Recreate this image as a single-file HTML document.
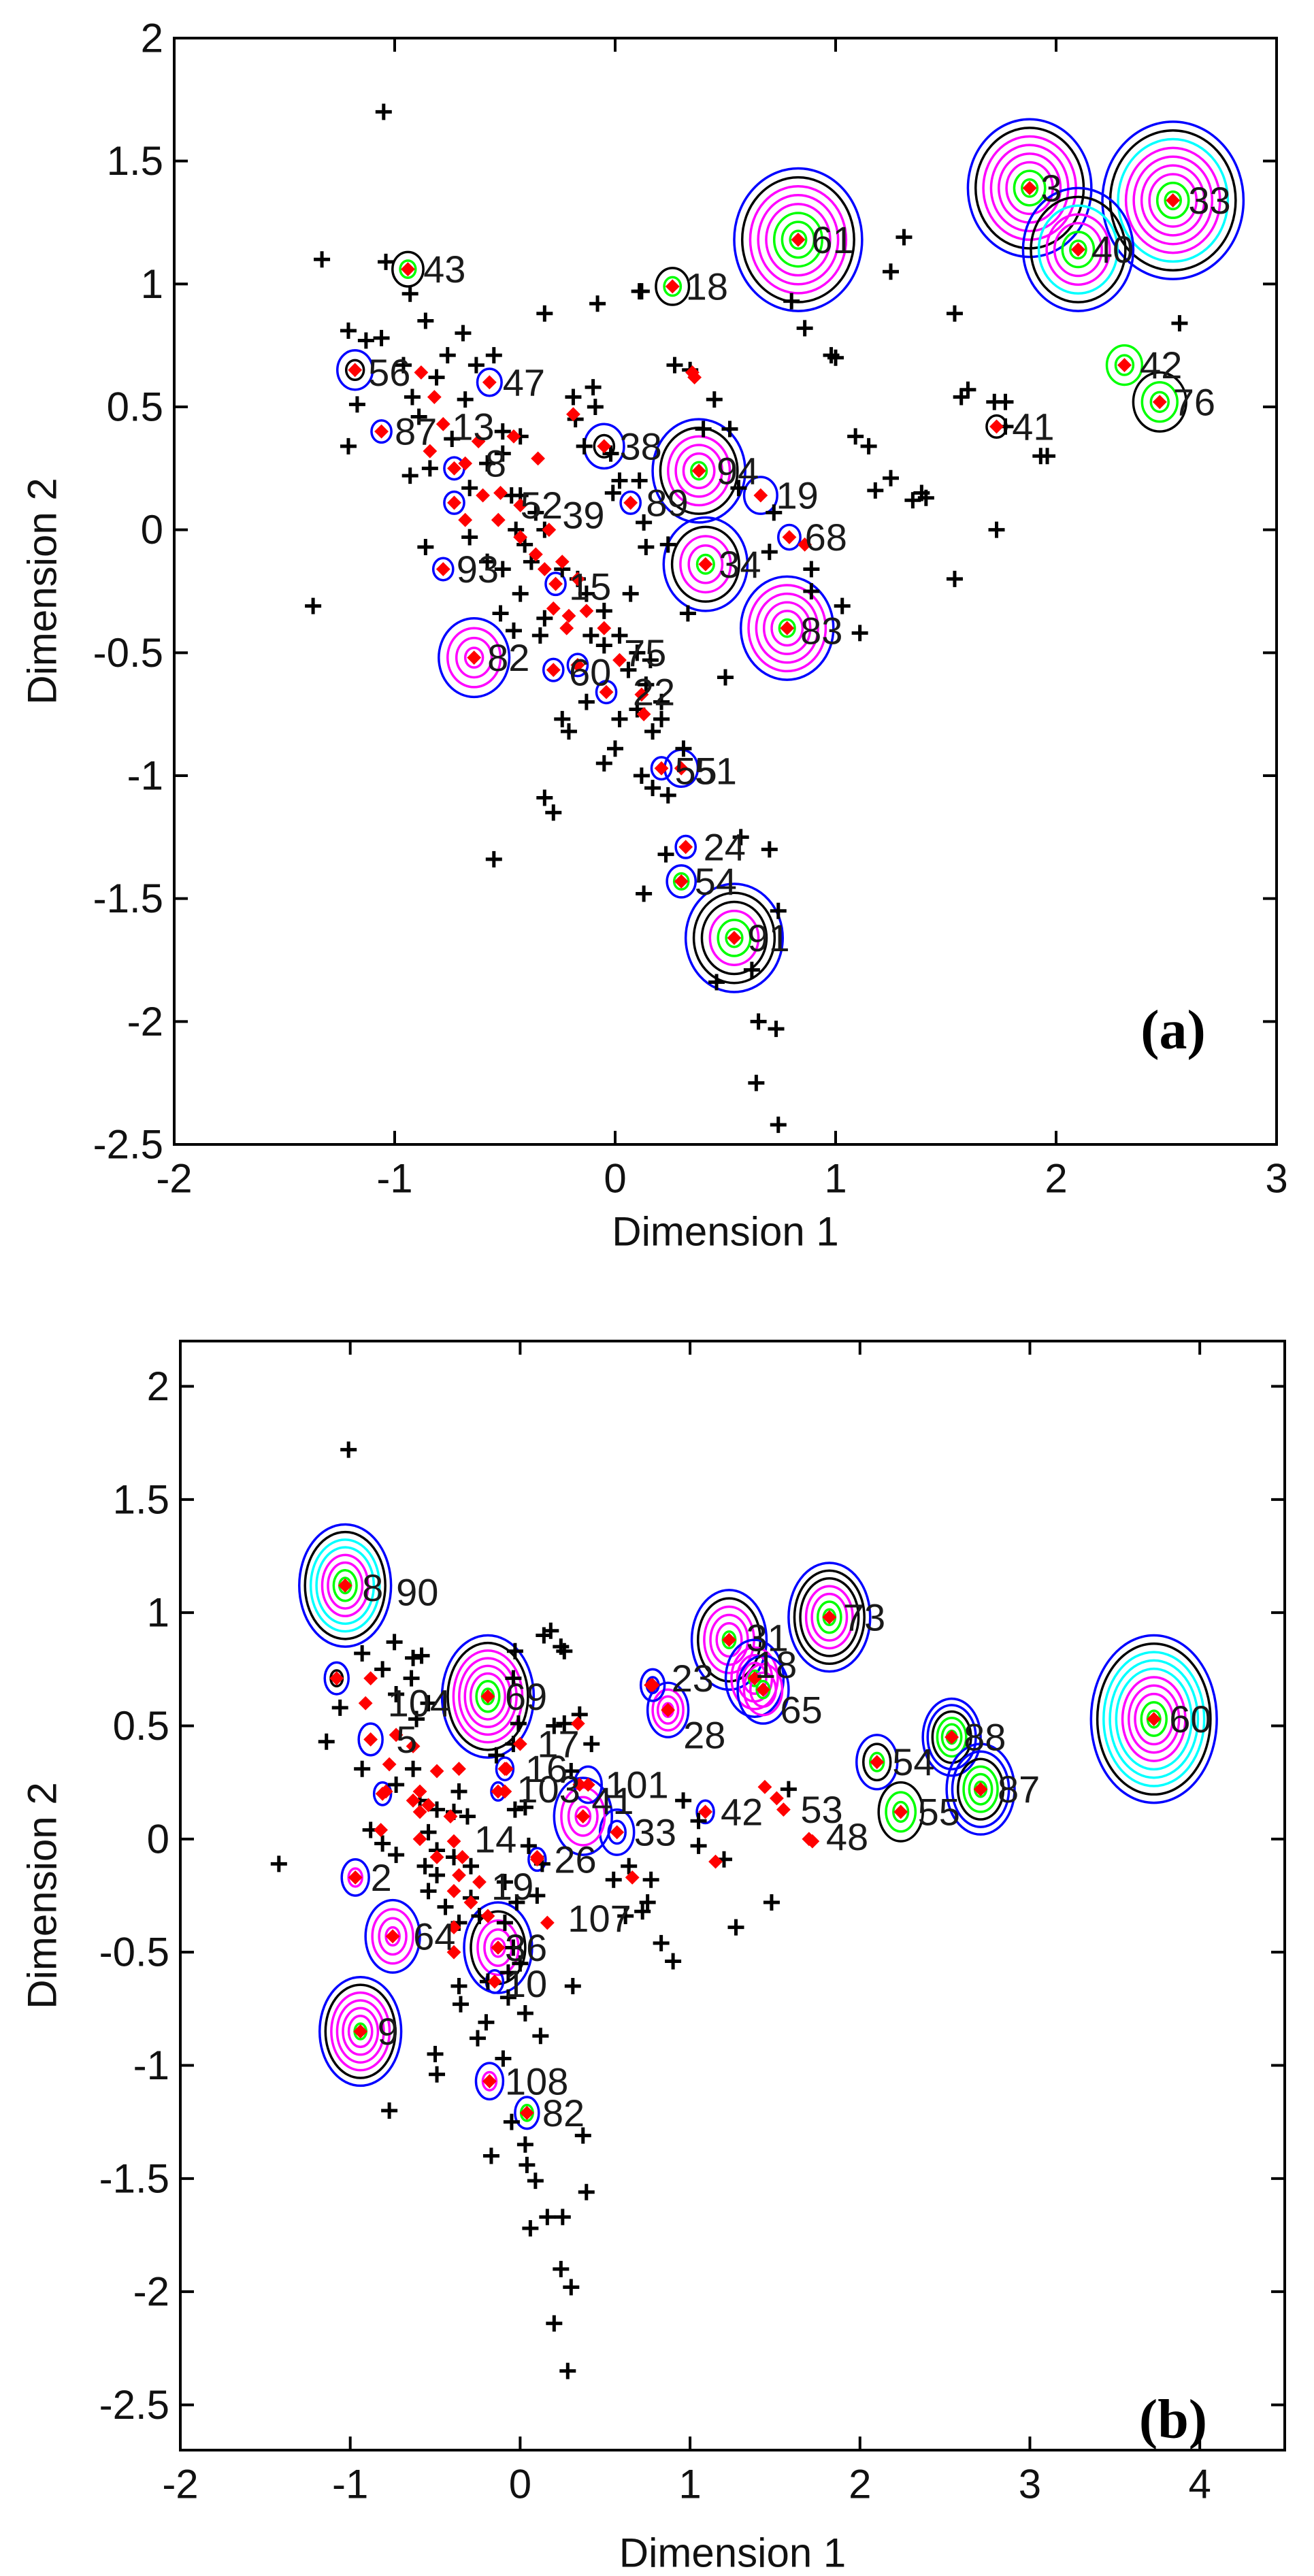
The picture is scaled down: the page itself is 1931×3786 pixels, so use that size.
<!DOCTYPE html>
<html><head><meta charset="utf-8"><style>
html,body{margin:0;padding:0;background:#fff;}
svg{display:block;}
text{font-family:"Liberation Sans",sans-serif;}
</style></head><body>
<svg id="fig" width="1931" height="3786" viewBox="0 0 1931 3786" xmlns="http://www.w3.org/2000/svg">
<rect x="0" y="0" width="1931" height="3786" fill="#fff"/>
<g id="panelA"></g>
<g id="panelB"></g>
</svg>
<script>
// ---------- Panel (a) data ----------
const aXTicks=[-2,-1,0,1,2,3];
const aXTickLabels=["-2","-1","0","1","2","3"];
const aYTicks=[2,1.5,1,0.5,0,-0.5,-1,-1.5,-2,-2.5];
const aYTickLabels=["2","1.5","1","0.5","0","-0.5","-1","-1.5","-2","-2.5"];
const aBlackX=[-1.05,-1.33,-1.04,-0.93,-0.86,-0.69,-1.21,-1.13,-1.06,-0.76,-0.63,-0.55,-1.17,-1.21,-0.93,-0.84,-0.81,-0.92,-0.89,-0.96,-0.68,-0.51,-0.43,-0.51,-0.32,-0.08,0.11,0.12,-0.19,-0.10,-0.09,-0.18,-0.14,0.02,-0.01,-0.02,0.11,0.13,0.14,0.24,0.27,0.34,0.45,0.40,0.52,0.56,0.80,0.86,0.98,1.00,0.72,0.70,0.89,0.89,1.03,1.11,0.50,0.33,0.07,1.25,1.31,1.54,1.60,1.57,1.72,1.77,1.77,1.93,1.96,1.09,1.15,1.25,1.18,1.35,1.39,1.41,1.73,1.54,2.56,-1.37,-0.86,-0.52,-0.43,-0.46,-0.34,-0.32,-0.47,-0.36,-0.45,-0.41,-0.58,-0.51,-0.38,-0.24,-0.17,-0.13,-0.05,-0.11,-0.05,0.02,0.10,0.16,0.06,0.14,0.21,0.21,0.17,0.02,0.10,-0.13,-0.24,-0.21,0.00,-0.05,0.12,0.17,0.24,0.31,-0.32,-0.28,-0.55,0.23,0.57,0.70,0.13,0.74,0.46,0.62,0.65,0.73,0.64,0.74,-0.74,-0.58,-0.66,-0.43,-0.32,-0.66];
const aBlackY=[1.70,1.10,1.09,0.96,0.85,0.80,0.81,0.77,0.78,0.71,0.67,0.71,0.51,0.34,0.22,0.25,0.62,0.54,0.46,0.67,0.53,0.40,0.38,0.31,0.88,0.92,0.97,0.97,0.54,0.58,0.50,0.45,0.34,0.20,0.15,0.31,0.20,0.03,-0.07,-0.06,0.67,0.65,0.53,0.41,0.41,0.17,0.93,0.82,0.71,0.70,0.07,-0.09,-0.16,-0.25,-0.31,-0.42,-0.60,-0.34,-0.26,1.05,1.19,0.88,0.57,0.54,0.52,0.52,0.42,0.30,0.30,0.38,0.34,0.21,0.16,0.12,0.15,0.13,0.00,-0.20,0.84,-0.31,-0.07,-0.34,-0.26,-0.41,-0.43,-0.36,0.14,0.07,0.00,-0.06,-0.13,-0.16,-0.13,-0.16,-0.20,-0.26,-0.33,-0.43,-0.47,-0.43,-0.50,-0.53,-0.57,-0.63,-0.70,-0.77,-0.82,-0.77,-0.73,-0.70,-0.77,-0.82,-0.89,-0.95,-1.00,-1.05,-1.08,-0.89,-1.09,-1.15,-1.34,-1.32,-1.25,-1.30,-1.48,-1.55,-1.84,-1.79,-2.00,-2.03,-2.25,-2.42,0.37,0.27,0.17,0.14,0.00,-0.03];
const aRedX=[-0.82,-0.88,-0.78,-0.84,-0.68,-0.62,-0.46,-0.35,-0.19,0.35,0.36,-0.60,-0.53,-0.43,-0.36,-0.30,-0.32,-0.24,-0.17,-0.28,-0.21,-0.13,-0.05,-0.22,0.02,0.12,0.13,-0.68,-0.52,0.86,-0.43];
const aRedY=[0.54,0.64,0.43,0.32,0.27,0.36,0.38,0.29,0.47,0.64,0.62,0.14,0.04,-0.03,-0.10,0.00,-0.16,-0.13,-0.20,-0.32,-0.35,-0.33,-0.40,-0.40,-0.53,-0.67,-0.75,0.04,0.15,-0.06,0.10];
const aClusterX=[1.88,2.53,2.10,0.83,-0.94,0.26,2.31,2.47,1.73,-1.18,-0.57,-1.06,-0.05,0.38,0.66,0.07,0.79,0.41,0.78,-0.64,-0.78,-0.28,-0.17,-0.04,-0.27,-0.73,-0.73,0.30,0.21,0.32,0.30,0.54];
const aClusterY=[1.39,1.34,1.14,1.18,1.06,0.99,0.67,0.52,0.42,0.65,0.60,0.40,0.34,0.24,0.14,0.11,-0.03,-0.14,-0.40,-0.52,-0.16,-0.57,-0.55,-0.66,-0.22,0.11,0.25,-0.97,-0.97,-1.29,-1.43,-1.66];
const aClusterR=[0.28,0.32,0.25,0.29,0.07,0.075,0.08,0.12,0.045,0.08,0.055,0.045,0.09,0.21,0.075,0.045,0.05,0.19,0.21,0.16,0.045,0.045,0.045,0.045,0.045,0.045,0.045,0.075,0.045,0.045,0.065,0.22];
const aClusterRings=["bkmmmmgg","bkcmmmmgg","bkcmmgg","bkmmmggg","kg","kg","gg","kgg","k","bk","b","b","bk","bkmmmg","b","b","b","bkmmg","bmmmmg","bmmm","b","b","b","b","b","b","b","b","b","b","bg","bkkmgg"];
const aLabelText=["3","33","40","61","43","18","42","76","41","56","47","87","13","38","94","19","89","68","34","83","82","93","39","51","55","24","54","91","75","22","60","15","8","52"];
const aLabelX=[1.93,2.60,2.16,0.89,-0.87,0.32,2.38,2.53,1.80,-1.12,-0.51,-1.00,-0.74,0.02,0.46,0.73,0.14,0.86,0.47,0.84,-0.58,-0.72,-0.24,0.36,0.27,0.40,0.36,0.60,0.04,0.08,-0.21,-0.21,-0.59,-0.43];
const aLabelY=[1.39,1.34,1.14,1.18,1.06,0.99,0.67,0.52,0.42,0.64,0.60,0.40,0.42,0.34,0.24,0.14,0.11,-0.03,-0.14,-0.41,-0.52,-0.16,0.06,-0.98,-0.98,-1.29,-1.43,-1.66,-0.50,-0.66,-0.58,-0.23,0.27,0.10];

// ---------- Panel (b) data ----------
const bXTicks=[-2,-1,0,1,2,3,4];
const bXTickLabels=["-2","-1","0","1","2","3","4"];
const bYTicks=[2,1.5,1,0.5,0,-0.5,-1,-1.5,-2,-2.5];
const bYTickLabels=["2","1.5","1","0.5","0","-0.5","-1","-1.5","-2","-2.5"];
const bBlackX=[-1.01,-1.14,-1.06,-0.74,-0.93,-0.63,-0.58,-0.81,-0.64,-0.73,-0.54,-0.61,-0.93,-0.88,-0.81,-0.73,-1.42,-0.77,-0.50,-0.49,-0.36,-0.35,-0.25,-0.20,-0.10,-0.05,-0.17,0.03,0.04,0.09,0.06,0.16,0.25,0.24,0.30,0.20,0.28,0.37,0.39,0.12,0.03,-0.07,0.31,0.72,0.75,0.83,0.90,1.27,1.48,1.05,1.20,0.96,1.05,1.58,0.20,0.26,0.35,0.42,0.14,0.18,0.24,0.26,-0.03,-0.04,-0.01,-0.04,-0.14,-0.03,0.03,0.05,0.13,0.30,0.64,0.77,0.55,0.62,-0.49,-0.39,-0.31,-0.59,-0.54,-0.56,-0.49,-0.54,-0.44,-0.36,-0.29,-0.24,-0.09,-0.02,0.10,-0.49,-0.39,-0.29,-0.63,-0.73,-0.36,-0.09,-0.04,0.00,-0.07,-0.19];
const bBlackY=[1.72,0.43,0.58,0.87,0.82,0.80,0.81,0.75,0.71,0.64,0.60,0.53,0.31,0.04,-0.02,-0.07,-0.11,-1.20,-0.95,-1.04,-0.65,-0.73,-0.88,-0.81,-0.97,-1.25,-1.40,-1.35,-1.44,-1.51,-1.72,-1.67,-1.67,-1.90,-1.98,-2.14,-2.35,-1.31,-1.56,-0.87,-0.77,-0.70,-0.65,-0.32,-0.28,-0.46,-0.54,-0.39,-0.28,-0.03,-0.09,0.17,0.08,0.22,0.50,0.51,0.55,0.42,0.90,0.92,0.85,0.83,0.83,0.71,0.51,0.42,0.37,0.13,0.14,-0.03,-0.11,0.30,-0.12,-0.18,-0.18,-0.34,0.13,0.12,0.10,0.17,0.03,-0.12,-0.16,-0.23,-0.30,-0.37,-0.26,-0.34,-0.37,-0.28,-0.25,-0.05,-0.08,-0.12,0.31,0.24,0.21,-0.19,-0.48,-0.55,-0.59,-0.63];
const bRedX=[-0.91,-0.88,-0.73,-0.63,-0.77,-0.79,-0.82,-0.59,-0.49,-0.36,-0.63,-0.59,-0.54,-0.41,-0.59,-0.39,-0.49,-0.34,-0.36,-0.24,-0.39,-0.29,-0.19,-0.39,-0.39,-0.09,-0.08,0.00,0.10,0.16,0.34,0.35,0.66,1.15,1.44,1.51,1.55,1.70,1.72,0.77];
const bRedY=[0.60,0.71,0.46,0.41,0.33,0.21,0.04,0.21,0.30,0.31,0.17,0.12,0.15,0.10,0.00,-0.01,-0.08,-0.08,-0.16,-0.19,-0.23,-0.28,-0.34,-0.39,-0.50,0.21,0.31,0.42,-0.08,-0.37,0.51,0.24,-0.17,-0.10,0.23,0.18,0.13,0.00,-0.01,0.68];
const bClusterX=[-1.03,-0.19,1.82,3.73,1.23,1.38,1.43,0.87,0.78,2.54,2.71,2.10,2.24,0.57,0.37,0.40,1.09,-0.97,-0.75,-0.94,-0.13,-0.18,0.04,-1.08,-0.88,-0.81,-0.09,-0.13,0.10,-0.15];
const bClusterY=[1.12,0.63,0.98,0.53,0.88,0.71,0.66,0.57,0.68,0.45,0.22,0.34,0.12,0.03,0.10,0.24,0.12,-0.17,-0.43,-0.85,-0.48,-1.07,-1.21,0.71,0.44,0.20,0.31,0.21,-0.09,-0.63];
const bClusterR=[0.27,0.27,0.24,0.37,0.22,0.17,0.15,0.12,0.07,0.17,0.20,0.12,0.13,0.10,0.17,0.08,0.05,0.08,0.16,0.24,0.20,0.08,0.07,0.07,0.07,0.05,0.05,0.04,0.05,0.05];
const bClusterRings=["bkccmmgg","bkmmmmgg","bkkmmgg","bkcccmmmgg","bkmmmg","bmmmg","bmmg","bmmm","bb","bbkggg","bbkggg","bkg","kgg","bb","bmmm","b","b","bm","bmmm","bkmmmmg","bkmmm","bm","bg","bk","b","b","b","b","b","b"];
const bLabelText=["8","90","69","73","60","31","18","65","28","23","54","55","88","87","33","101","41","42","53","48","17","16","103","14","26","2","64","9","36","107","108","82","10","104","5","19"];
const bLabelX=[-0.93,-0.73,-0.09,1.90,3.82,1.33,1.38,1.53,0.96,0.89,2.19,2.34,2.61,2.81,0.67,0.50,0.42,1.18,1.65,1.80,0.10,0.03,-0.02,-0.27,0.20,-0.88,-0.63,-0.84,-0.09,0.28,-0.09,0.13,-0.09,-0.78,-0.73,-0.17];
const bLabelY=[1.11,1.09,0.63,0.98,0.53,0.89,0.77,0.57,0.46,0.71,0.34,0.12,0.45,0.22,0.03,0.24,0.17,0.12,0.13,0.01,0.42,0.31,0.22,0.00,-0.09,-0.17,-0.43,-0.85,-0.48,-0.35,-1.07,-1.21,-0.64,0.60,0.44,-0.21];

const NS="http://www.w3.org/2000/svg";
const COLORS={b:"#0000ff",k:"#000000",c:"#00ffff",m:"#ff00ff",g:"#00ff00"};
function mk(tag,attrs,parent){const e=document.createElementNS(NS,tag);for(const k in attrs)e.setAttribute(k,attrs[k]);parent.appendChild(e);return e;}

function drawPanel(g,P){
  const sx=v=>P.left+(v-P.xmin)/(P.xmax-P.xmin)*(P.right-P.left);
  const sy=v=>P.top+(P.ymax-v)/(P.ymax-P.ymin)*(P.bottom-P.top);
  const kx=(P.right-P.left)/(P.xmax-P.xmin), ky=(P.bottom-P.top)/(P.ymax-P.ymin);
  // contours
  const cg=mk('g',{},g);
  
  
  for(let i=0;i<P.cx.length;i++){
    const rings=P.rings[i], n=rings.length;
    const rx=P.cr[i]*kx, ry=P.cr[i]*ky;
    const cl=mk('g',{},cg);
    
    
    for(let j=0;j<n;j++){
      const f=(n-j)/n;
      const el=mk('ellipse',{cx:sx(P.cx[i]),cy:sy(P.cy[i]),rx:Math.max(rx*f,5),ry:Math.max(ry*f,5),fill:'none',stroke:COLORS[rings[j]],'stroke-width':3.5},cl);
      
      
    }
  }
  // black points
  for(let i=0;i<P.bx.length;i++){
    const x=sx(P.bx[i]),y=sy(P.by[i]);
    const p=mk('path',{d:`M${x-12} ${y}h24M${x} ${y-12}v24`,stroke:'#000','stroke-width':5,fill:'none'},g);
    
    
  }
  // red points (including cluster centers)
  const rx=P.rx.concat(P.cx), ry=P.ry.concat(P.cy);
  for(let i=0;i<rx.length;i++){
    const x=sx(rx[i]),y=sy(ry[i]);
    const p=mk('path',{d:`M${x-9} ${y}L${x} ${y-9}L${x+9} ${y}L${x} ${y+9}Z`,fill:'#ff0000',stroke:'#ff0000','stroke-width':2},g);
    
    
  }
  // point labels
  for(let i=0;i<P.lt.length;i++){
    const t=mk('text',{x:sx(P.lx[i]),y:sy(P.ly[i]),'font-size':56,fill:'#1a1a1a','dominant-baseline':'central'},g);
    t.textContent=P.lt[i];
    
    
  }
  // axes box
  const box=mk('rect',{x:P.left,y:P.top,width:P.right-P.left,height:P.bottom-P.top,fill:'none',stroke:'#000','stroke-width':4},g);
  
  
  for(let i=0;i<P.xt.length;i++){
    const x=sx(P.xt[i]);
    const tk=mk('path',{d:`M${x} ${P.bottom}v-20M${x} ${P.top}v20`,stroke:'#000','stroke-width':4},g);
    
    
    const t=mk('text',{x:x,y:P.bottom+50,'font-size':60,'text-anchor':'middle','dominant-baseline':'central',fill:'#111'},g);
    t.textContent=P.xtl[i];
    
    
  }
  for(let i=0;i<P.yt.length;i++){
    const y=sy(P.yt[i]);
    const tk=mk('path',{d:`M${P.left} ${y}h20M${P.right} ${y}h-20`,stroke:'#000','stroke-width':4},g);
    
    
    const t=mk('text',{x:P.left-16,y:y,'font-size':60,'text-anchor':'end','dominant-baseline':'central',fill:'#111'},g);
    t.textContent=P.ytl[i];
    
    
  }
  const xt=mk('text',{x:(P.left+P.right)/2,y:P.xTitleY,'font-size':60,'text-anchor':'middle','dominant-baseline':'central',fill:'#111'},g);
  xt.textContent='Dimension 1';
  
  
  const yc=(P.top+P.bottom)/2;
  const yt=mk('text',{x:62,y:yc,'font-size':60,'text-anchor':'middle','dominant-baseline':'central',fill:'#111',transform:`rotate(-90 62 ${yc})`},g);
  yt.textContent='Dimension 2';
  
  
  const pl=mk('text',{x:1724,y:P.tagY,'font-size':82,'font-weight':'bold','text-anchor':'middle','dominant-baseline':'central',fill:'#000',style:'font-family:"Liberation Serif",serif'},g);
  pl.textContent=P.tag;
  
  
}

drawPanel(document.getElementById('panelA'),{
  left:256,right:1876,top:56,bottom:1682,xmin:-2,xmax:3,ymin:-2.5,ymax:2,
  xt:aXTicks,xtl:aXTickLabels,yt:aYTicks,ytl:aYTickLabels,
  bx:aBlackX,by:aBlackY,rx:aRedX,ry:aRedY,cx:aClusterX,cy:aClusterY,cr:aClusterR,rings:aClusterRings,
  lt:aLabelText,lx:aLabelX,ly:aLabelY,xTitleY:1810,tagY:1513,tag:'(a)'});
drawPanel(document.getElementById('panelB'),{
  left:265,right:1888,top:1971,bottom:3601,xmin:-2,xmax:4.5,ymin:-2.7,ymax:2.2,
  xt:bXTicks,xtl:bXTickLabels,yt:bYTicks,ytl:bYTickLabels,
  bx:bBlackX,by:bBlackY,rx:bRedX,ry:bRedY,cx:bClusterX,cy:bClusterY,cr:bClusterR,rings:bClusterRings,
  lt:bLabelText,lx:bLabelX,ly:bLabelY,xTitleY:3752,tagY:3555,tag:'(b)'});
</script>
</body></html>
